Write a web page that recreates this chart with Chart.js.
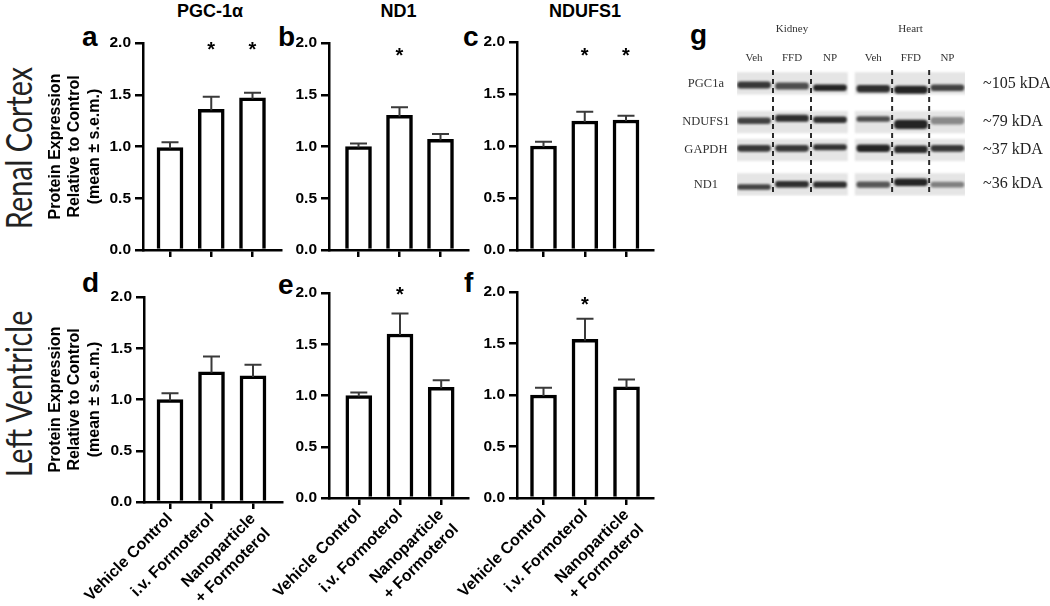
<!DOCTYPE html>
<html><head><meta charset="utf-8">
<script src="https://cdn.jsdelivr.net/npm/chart.js@4.4.0/dist/chart.umd.min.js"></script>
<style>
html,body{margin:0;padding:0;background:#fff;}
body{width:1050px;height:606px;position:relative;overflow:hidden;font-family:"Liberation Sans",Arial,sans-serif;}
.cv{position:absolute;}
.lbl{position:absolute;line-height:1;white-space:nowrap;color:#000;font-weight:bold;}
.row{position:absolute;line-height:1;white-space:nowrap;color:#222;font-family:Lato,"Open Sans",sans-serif;font-size:36px;font-weight:400;transform:translate(-50%,-50%) rotate(-90deg) scaleX(0.8);}
</style></head><body>
<div class="lbl" style="left:210px;top:2px;font-size:18px;transform:translateX(-50%);">PGC-1α</div>
<div class="lbl" style="left:398.5px;top:2px;font-size:18px;transform:translateX(-50%);">ND1</div>
<div class="lbl" style="left:585px;top:2px;font-size:18px;transform:translateX(-50%);">NDUFS1</div>
<div class="lbl" style="left:82px;top:23.3px;font-size:28px;">a</div>
<div class="lbl" style="left:278px;top:23.3px;font-size:28px;">b</div>
<div class="lbl" style="left:463px;top:23.3px;font-size:28px;">c</div>
<div class="lbl" style="left:82px;top:269.3px;font-size:28px;">d</div>
<div class="lbl" style="left:278px;top:271.3px;font-size:28px;">e</div>
<div class="lbl" style="left:464px;top:269.3px;font-size:28px;">f</div>
<div class="lbl" style="left:690px;top:21.3px;font-size:28px;">g</div>
<div class="row" style="left:18px;top:148px;">Renal Cortex</div>
<div class="row" style="left:18px;top:394px;">Left Ventricle</div>
<script>
// ---------------- data ----------------
const categories = [['Vehicle Control'], ['i.v. Formoterol'], ['Nanoparticle', '+ Formoterol']];
const yTickValues = [0, 0.5, 1.0, 1.5, 2.0];
const yTickLabels = ['0.0', '0.5', '1.0', '1.5', '2.0'];
const yTitle = ['Protein Expression', 'Relative to Control', '(mean ± s.e.m.)'];

const pgc1aCortexMean = [0.99, 1.36, 1.47];
const pgc1aCortexSem  = [0.05, 0.12, 0.05];
const pgc1aCortexSig  = [false, true, true];
const nd1CortexMean   = [1.00, 1.30, 1.07];
const nd1CortexSem    = [0.03, 0.08, 0.05];
const nd1CortexSig    = [false, true, false];
const ndufs1CortexMean = [1.00, 1.24, 1.25];
const ndufs1CortexSem  = [0.04, 0.09, 0.04];
const ndufs1CortexSig  = [false, true, true];
const pgc1aLVMean = [1.00, 1.27, 1.23];
const pgc1aLVSem  = [0.06, 0.15, 0.11];
const pgc1aLVSig  = [false, false, false];
const nd1LVMean   = [1.00, 1.60, 1.08];
const nd1LVSem    = [0.03, 0.20, 0.07];
const nd1LVSig    = [false, true, false];
const ndufs1LVMean = [1.00, 1.54, 1.08];
const ndufs1LVSem  = [0.07, 0.20, 0.07];
const ndufs1LVSig  = [false, true, false];
// y level (data units) of the significance asterisks, panels a-f
const sigLevels = [1.985, 1.93, 1.92, 2.0, 2.03, 1.925];

// western blot (panel g)
const blotTissues = ['Kidney', 'Heart'];
const blotLanes = ['Veh', 'FFD', 'NP', 'Veh', 'FFD', 'NP'];
const blotLaneTissue = [0, 0, 0, 1, 1, 1];
const blotLaneX = [0, 1, 2, 3.14, 4.13, 5.09];
const blotProteins = ['PGC1a', 'NDUFS1', 'GAPDH', 'ND1'];
const blotSizes = ['~105 kDA', '~79 kDA', '~37 kDA', '~36 kDA'];
const blotRowY = [0, 1.15, 1.98, 3.0];
const blotBandY = [
  [0.05, 0.08, 0.13, 0.16, 0.19, 0.13],
  [1.11, 1.04, 1.08, 1.06, 1.22, 1.11],
  [1.93, 1.93, 1.90, 1.93, 1.96, 1.93],
  [3.08, 3.00, 3.01, 3.01, 2.94, 3.01]
];
const blotIntensity = [
  [0.85, 0.75, 0.95, 0.90, 0.95, 0.80],
  [0.80, 0.90, 0.90, 0.75, 0.95, 0.45],
  [0.85, 0.85, 0.88, 0.95, 0.92, 0.85],
  [0.80, 0.90, 0.90, 0.70, 0.95, 0.50]
];
const blotBandThick = [
  [0.19, 0.19, 0.17, 0.20, 0.22, 0.17],
  [0.17, 0.19, 0.17, 0.15, 0.26, 0.20],
  [0.18, 0.18, 0.16, 0.20, 0.20, 0.18],
  [0.15, 0.17, 0.17, 0.16, 0.20, 0.15]
];

// ---------------- layout / style ----------------
const FONT = '"Liberation Sans", Arial, sans-serif';
Chart.defaults.font.family = FONT;
Chart.defaults.color = '#000';

const panels = [
  {mean: pgc1aCortexMean, sem: pgc1aCortexSem, sig: pgc1aCortexSig, sigY: sigLevels[0], axisX: 142.5, end: 280.5, tick0: 170, step: 41.25, top: 43.3, bottom: 250, labels: false, title: true},
  {mean: nd1CortexMean, sem: nd1CortexSem, sig: nd1CortexSig, sigY: sigLevels[1], axisX: 328.5, end: 468, tick0: 358.5, step: 41, top: 43.3, bottom: 250, labels: false, title: false},
  {mean: ndufs1CortexMean, sem: ndufs1CortexSem, sig: ndufs1CortexSig, sigY: sigLevels[2], axisX: 516.7, end: 653.3, tick0: 543.5, step: 41.25, top: 42, bottom: 249.5, labels: false, title: false},
  {mean: pgc1aLVMean, sem: pgc1aLVSem, sig: pgc1aLVSig, sigY: sigLevels[3], axisX: 143.5, end: 281.5, tick0: 170, step: 41.5, top: 296.7, bottom: 501.7, labels: true, title: true},
  {mean: nd1LVMean, sem: nd1LVSem, sig: nd1LVSig, sigY: sigLevels[4], axisX: 329, end: 468.3, tick0: 358.8, step: 41.2, top: 293.3, bottom: 498.3, labels: true, title: false},
  {mean: ndufs1LVMean, sem: ndufs1LVSem, sig: ndufs1LVSig, sigY: sigLevels[5], axisX: 516.7, end: 653.3, tick0: 543.5, step: 41.5, top: 292, bottom: 498, labels: true, title: false}
];

const errPlugin = {
  id: 'errbars',
  afterDatasetsDraw(chart) {
    const ctx = chart.ctx, ys = chart.scales.y, xs = chart.scales.x;
    chart.data.datasets.forEach((ds, di) => {
      if (!ds.sem) return;
      const meta = chart.getDatasetMeta(di);
      meta.data.forEach((bar, i) => {
        const v = ds.data[i].y;
        const top = ys.getPixelForValue(v + ds.sem[i]);
        ctx.save();
        ctx.strokeStyle = '#3a3a3a';
        ctx.lineWidth = 2;
        ctx.beginPath();
        ctx.moveTo(bar.x, bar.y + 1);
        ctx.lineTo(bar.x, top);
        ctx.moveTo(bar.x - 8.5, top);
        ctx.lineTo(bar.x + 8.5, top);
        ctx.stroke();
        if (ds.sig[i]) {
          ctx.fillStyle = '#000';
          ctx.font = 'bold 20px ' + FONT;
          ctx.textAlign = 'center';
          ctx.textBaseline = 'alphabetic';
          ctx.fillText('*', xs.getPixelForValue(i), ys.getPixelForValue(ds.sigY) + 11.5);
        }
        ctx.restore();
      });
    });
  }
};

const WY = 110, PT = 25, PR = 30;
function makePanel(p) {
  const HX = p.labels ? 108 : 20;
  const wl = Math.round(p.axisX - WY);
  const wt = Math.round(p.top - PT);
  const ww = Math.round(p.end - wl) + PR;
  const wh = Math.round(p.bottom - wt) + HX;
  const wrap = document.createElement('div');
  wrap.className = 'cv';
  Object.assign(wrap.style, {left: wl + 'px', top: wt + 'px', width: ww + 'px', height: wh + 'px'});
  const canvas = document.createElement('canvas');
  wrap.appendChild(canvas);
  document.body.appendChild(wrap);
  const caLeft = wl + WY, caRight = wl + ww - PR;
  const xmin = (caLeft - p.tick0) / p.step, xmax = (caRight - p.tick0) / p.step;
  const axisGrid = (tl) => ({display: true, drawOnChartArea: false, drawTicks: true, offset: false, tickLength: tl, tickWidth: 2.5, tickColor: '#000', color: '#000', lineWidth: 2.5});
  new Chart(canvas, {
    type: 'bar',
    data: {datasets: [{
      data: p.mean.map((v, i) => ({x: i, y: v})),
      sem: p.sem, sig: p.sig, sigY: p.sigY,
      backgroundColor: '#fff', borderColor: '#000', borderWidth: 3.5, barThickness: 26
    }]},
    options: {
      responsive: true, maintainAspectRatio: false, animation: false,
      layout: {padding: {top: PT, right: PR, left: 0, bottom: 0}},
      plugins: {legend: {display: false}, tooltip: {enabled: false}},
      scales: {
        x: {
          type: 'linear', min: xmin, max: xmax, offset: false,
          afterBuildTicks: s => { s.ticks = categories.map((c, i) => ({value: i})); },
          afterFit: s => { s.height = HX; },
          ticks: {display: p.labels, callback: (v, i) => categories[i], minRotation: 45, maxRotation: 45, autoSkip: false, padding: 0, color: '#000',
                  font: {family: FONT, size: 16, weight: 'bold', lineHeight: 1.3}},
          grid: axisGrid(7),
          border: {display: true, color: '#000', width: 2.5}
        },
        y: {
          type: 'linear', min: 0, max: 2,
          afterBuildTicks: s => { s.ticks = yTickValues.map(v => ({value: v})); },
          afterFit: s => { s.width = WY; },
          ticks: {callback: (v, i) => yTickLabels[i], padding: 4, color: '#000', font: {family: FONT, size: 15.5, weight: 'bold'}},
          grid: axisGrid(8),
          border: {display: true, color: '#000', width: 2.5},
          title: {display: p.title, text: yTitle, color: '#000', font: {family: FONT, size: 16, weight: 'bold', lineHeight: 1.2},
                  padding: {top: 55.7 - wl - 9.6, bottom: 0}}
        }
      }
    },
    plugins: [errPlugin]
  });
}
panels.forEach(makePanel);

// ---------------- western blot ----------------
(function () {
  const L = 680, T = 20, W = 370, H = 204;
  const wrap = document.createElement('div');
  wrap.className = 'cv';
  Object.assign(wrap.style, {left: L + 'px', top: T + 'px', width: W + 'px', height: H + 'px'});
  const canvas = document.createElement('canvas');
  wrap.appendChild(canvas);
  document.body.appendChild(wrap);

  const tissueX = blotTissues.map((t, ti) => {
    const xs = blotLaneX.filter((x, i) => blotLaneTissue[i] === ti);
    return xs.reduce((a, b) => a + b, 0) / xs.length;
  });
  const seps = [];
  for (let i = 0; i < blotLaneX.length - 1; i++) {
    if (blotLaneTissue[i] === blotLaneTissue[i + 1]) seps.push((blotLaneX[i] + blotLaneX[i + 1]) / 2);
  }
  const datasets = [];
  // bands
  blotProteins.forEach((pr, r) => {
    datasets.push({
      type: 'bar', blur: 1.3, order: 0, grouped: false,
      data: blotLaneX.map((x, i) => ({x: x, y: [blotBandY[r][i] - blotBandThick[r][i] / 2, blotBandY[r][i] + blotBandThick[r][i] / 2]})),
      backgroundColor: blotIntensity[r].map(a => 'rgba(25,25,25,' + a + ')'),
      borderWidth: 0, barThickness: 33, borderRadius: 4, borderSkipped: false
    });
  });
  // membrane strips
  datasets.push({
    type: 'bar', blur: 0.8, order: 2, grouped: false,
    data: blotRowY.flatMap(ry => tissueX.map(tx => ({x: tx, y: [ry - 0.32, ry + 0.32]}))),
    backgroundColor: '#e5e5e5', borderWidth: 0, barThickness: 111, borderSkipped: false
  });
  // dashed separators
  seps.forEach(sx => {
    datasets.push({
      type: 'line', order: -1,
      data: [{x: sx, y: blotRowY[0] - 0.4}, {x: sx, y: blotRowY[3] + 0.31}],
      borderColor: '#2a2a2a', borderWidth: 2, borderDash: [5, 4], pointRadius: 0, fill: false
    });
  });
  const blurPlugin = {
    id: 'blur',
    beforeDatasetDraw(chart, args) {
      const ds = chart.data.datasets[args.index];
      chart.ctx.save();
      if (ds.blur) chart.ctx.filter = 'blur(' + ds.blur + 'px)';
    },
    afterDatasetDraw(chart) { chart.ctx.restore(); }
  };
  const serif = '"Liberation Serif", "Times New Roman", serif';
  const yCommon = {
    type: 'linear', min: -0.397, max: 3.36, reverse: true,
    afterBuildTicks: s => { s.ticks = blotRowY.map(v => ({value: v})); },
    grid: {display: false, drawTicks: false}, border: {display: false}
  };
  new Chart(canvas, {
    type: 'bar',
    data: {datasets},
    options: {
      responsive: true, maintainAspectRatio: false, animation: false,
      layout: {padding: {top: 0, left: 0, right: 0, bottom: 12}},
      plugins: {legend: {display: false}, tooltip: {enabled: false}},
      scales: {
        x: {
          type: 'linear', position: 'top', min: -0.447, max: 5.553, offset: false, weight: 0,
          afterBuildTicks: s => { s.ticks = blotLaneX.map(v => ({value: v})); },
          afterFit: s => { s.height = 20; },
          ticks: {callback: (v, i) => blotLanes[i], padding: 5, color: '#333', maxRotation: 0, autoSkip: false, font: {family: serif, size: 11}},
          grid: {display: false, drawTicks: false, offset: false}, border: {display: false}
        },
        x2: {
          type: 'linear', position: 'top', min: -0.447, max: 5.553, offset: false, weight: 1,
          afterBuildTicks: s => { s.ticks = tissueX.map(v => ({value: v})); },
          afterFit: s => { s.height = 30; },
          ticks: {callback: (v, i) => blotTissues[i], padding: 14.4, color: '#333', maxRotation: 0, autoSkip: false, font: {family: serif, size: 11}},
          grid: {display: false, drawTicks: false, offset: false}, border: {display: false}
        },
        y: Object.assign({}, yCommon, {
          position: 'left',
          afterFit: s => { s.width = 57; },
          ticks: {callback: (v, i) => blotProteins[i], crossAlign: 'center', padding: 7.5, color: '#333', font: {family: serif, size: 12.5}}
        }),
        y2: Object.assign({}, yCommon, {
          position: 'right',
          afterFit: s => { s.width = 85; },
          ticks: {callback: (v, i) => blotSizes[i], padding: 18, color: '#222', font: {family: serif, size: 16}}
        })
      }
    },
    plugins: [blurPlugin]
  });
})();
</script>
</body></html>
